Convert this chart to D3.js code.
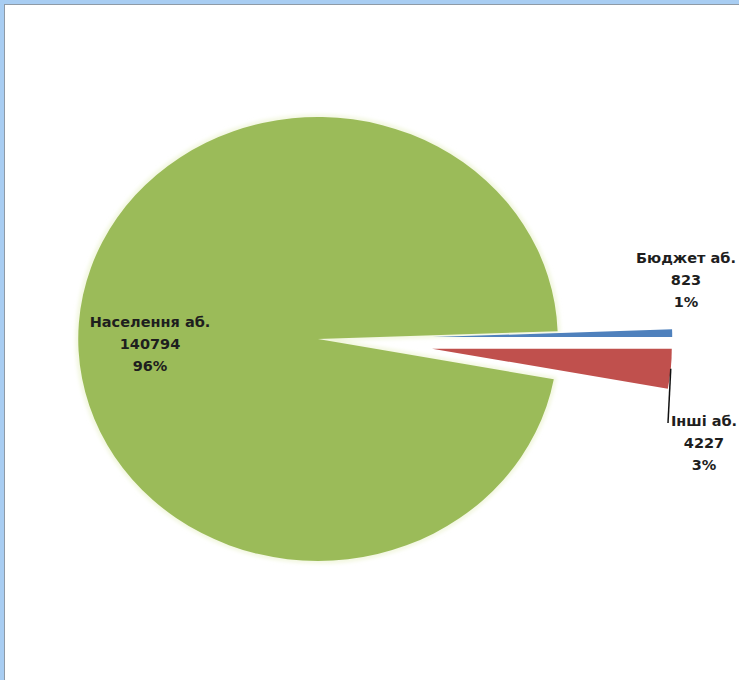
<!DOCTYPE html>
<html>
<head>
<meta charset="utf-8">
<script src="https://cdn.jsdelivr.net/npm/d3@7"></script>
<style>
   html, body { margin: 0; padding: 0; background: #fff; }
   svg { display: block; }
   .lbl { font-family: "DejaVu Sans", sans-serif; font-weight: bold; font-size: 14.5px; fill: #1e1e1e; }
</style>
</head>
<body>
<div id="chart"></div>
<script>

// CATEGORIES & VALUES
var categories = ['Населення аб.', 'Бюджет аб.', 'Інші аб.'];
var values = [140794, 823, 4227];
var percents = ['96%', '1%', '3%'];

// SETTINGS
var settings = {
   width: 739,
   height: 680,
   center: { x: 318, y: 339 },
   radius: 222,
   stretch: 1.08,
   colors: ['#9bbb59', '#4f81bd', '#c0504d'],
   explode: [0, 106, 106],
   labels: [
      { x: 150, y: 327 },
      { x: 686, y: 263 },
      { x: 704, y: 426 }
   ],
   lineHeight: 22,
   leaderEnd: { x: 668, y: 423 }
};

// BUILD ROWS FOR THE PIE
var rows = categories.map((name, i) => { return { name: name, value: values[i], percent: percents[i] } });

// START ANGLE -- BOUNDARY BETWEEN 2ND AND 3RD SLICE SITS AT 3 O'CLOCK
var total = d3.sum(values);
var start = Math.PI / 2 - (values[0] + values[1]) / total * 2 * Math.PI;

var pie = d3.pie()
   .sort(null)
   .value(d => d.value)
   .startAngle(start)
   .endAngle(start + 2 * Math.PI);

var arcs = pie(rows);

var arc = d3.arc()
   .innerRadius(0)
   .outerRadius(settings.radius);

// CANVAS
var canvas = d3.select('#chart').append('svg')
   .attr('width', settings.width)
   .attr('height', settings.height);

// FRAME -- BLUE EDGE, GREY RULE, WHITE PLOT
canvas.append('rect')
   .attr('width', settings.width)
   .attr('height', settings.height)
   .attr('fill', '#a8cdf2');

canvas.append('rect')
   .attr('x', 4.5)
   .attr('y', 4.5)
   .attr('width', settings.width + 10)
   .attr('height', settings.height + 10)
   .attr('fill', '#ffffff')
   .attr('stroke', '#8e9aa6')
   .attr('stroke-width', 1);

// PIE GROUP -- STRETCHED A LITTLE ALONG X LIKE THE SOURCE
var g = canvas.append('g')
   .attr('transform', 'translate(' + settings.center.x + ',' + settings.center.y + ') scale(' + settings.stretch + ',1)');

// OFFSET OF AN EXPLODED SLICE ALONG ITS BISECTOR
function offset(d, i) {
   var mid = (d.startAngle + d.endAngle) / 2;
   return [Math.sin(mid) * settings.explode[i], -Math.cos(mid) * settings.explode[i]];
}

// SOFT HALO BEHIND THE BIG SLICE
canvas.append('defs').append('filter')
   .attr('id', 'halo')
   .attr('x', '-10%').attr('y', '-10%').attr('width', '120%').attr('height', '120%')
   .append('feGaussianBlur')
   .attr('stdDeviation', 2);

g.append('path')
   .attr('d', arc(arcs[0]))
   .attr('fill', 'none')
   .attr('stroke', '#eef4d6')
   .attr('stroke-width', 4)
   .attr('filter', 'url(#halo)');

// SLICES
g.selectAll('path.slice')
   .data(arcs)
   .enter().append('path')
      .attr('class', 'slice')
      .attr('transform', (d, i) => { var o = offset(d, i); return 'translate(' + o[0] + ',' + o[1] + ')' })
      .attr('d', arc)
      .attr('fill', (d, i) => settings.colors[i]);

// LEADER LINE FOR THE LAST SLICE
var last = arcs[2];
var mid = (last.startAngle + last.endAngle) / 2;
var reach = settings.radius + settings.explode[2];
var from = [
   settings.center.x + settings.stretch * reach * Math.sin(mid),
   settings.center.y - reach * Math.cos(mid)
];

canvas.append('path')
   .attr('d', d3.line()([from, [settings.leaderEnd.x, settings.leaderEnd.y]]))
   .attr('stroke', '#111')
   .attr('stroke-width', 1.5)
   .attr('fill', 'none');

// DATA LABELS -- NAME, VALUE, PERCENT
rows.forEach((row, i) => {
   var pos = settings.labels[i];
   var text = canvas.append('text')
      .attr('class', 'lbl')
      .attr('text-anchor', 'middle');

   [row.name, row.value, row.percent].forEach((line, k) => {
      text.append('tspan')
         .attr('x', pos.x)
         .attr('y', pos.y + k * settings.lineHeight)
         .text(line);
   });
});

</script>
</body>
</html>
